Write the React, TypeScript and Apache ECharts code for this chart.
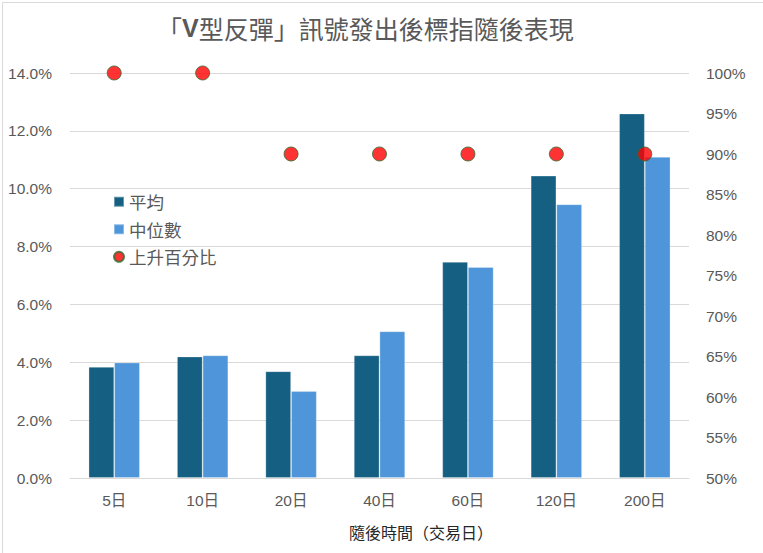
import React, { useEffect, useRef } from "react";
import * as echarts from "echarts";

const categories = ["5日", "10日", "20日", "40日", "60日", "120日", "200日"];
const meanValues = [3.84, 4.2, 3.69, 4.24, 7.47, 10.45, 12.6];
const medianValues = [3.99, 4.24, 3.0, 5.07, 7.29, 9.46, 11.1];
const upPercent = [100, 100, 90, 90, 90, 90, 90];
const seriesNames = ["平均", "中位數", "上升百分比"];
const titleParts = ["「", "V", "型反彈」訊號發出後標指隨後表現"];
const xAxisTitle = "隨後時間（交易日）";

const FONT = "'Liberation Sans', Arial, 'Noto Sans CJK TC', sans-serif";
const CJK = "'Noto Sans CJK TC', 'Liberation Sans', sans-serif";

export default function App() {
  const ref = useRef<HTMLDivElement>(null);
  useEffect(() => {
    if (!ref.current) return;
    const chart = echarts.init(ref.current, null, { renderer: "svg" });
    chart.setOption({
      animation: false,
      backgroundColor: "#ffffff",
      title: {
        text: `{a|${titleParts[0]}}{b|${titleParts[1]}}{a|${titleParts[2]}}`,
        left: 152,
        top: 10,
        textStyle: {
          fontWeight: "normal",
          rich: {
            a: { fontSize: 25, color: "#595959", fontFamily: CJK, fontWeight: "normal" },
            b: { fontSize: 25, color: "#595959", fontFamily: FONT, fontWeight: "bold" },
          },
        },
      },
      legend: {
        orient: "vertical",
        left: 108,
        top: 188,
        itemWidth: 10,
        itemHeight: 10,
        itemGap: 10,
        textStyle: { fontSize: 17.5, color: "#595959", fontFamily: CJK },
        data: [
          { name: seriesNames[0], icon: "rect" },
          { name: seriesNames[1], icon: "rect" },
          { name: seriesNames[2], icon: "circle" },
        ],
      },
      grid: { left: 70, right: 74, top: 73, bottom: 75, containLabel: false },
      xAxis: {
        type: "category",
        data: categories,
        axisLine: { lineStyle: { color: "#d9d9d9" } },
        axisTick: { show: false },
        axisLabel: { fontSize: 15.5, color: "#595959", fontFamily: FONT, margin: 15 },
      },
      yAxis: [
        {
          type: "value",
          min: 0,
          max: 14,
          interval: 2,
          axisLine: { show: false },
          axisTick: { show: false },
          splitLine: { lineStyle: { color: "#d9d9d9" } },
          axisLabel: {
            fontSize: 15.5,
            color: "#595959",
            fontFamily: FONT,
            margin: 18,
            formatter: (v: number) => v.toFixed(1) + "%",
          },
        },
        {
          type: "value",
          min: 50,
          max: 100,
          interval: 5,
          axisLine: { show: false },
          axisTick: { show: false },
          splitLine: { show: false },
          axisLabel: {
            fontSize: 15.5,
            color: "#595959",
            fontFamily: FONT,
            margin: 17,
            formatter: (v: number) => v + "%",
          },
        },
      ],
      series: [
        {
          name: seriesNames[0],
          type: "bar",
          data: meanValues,
          barGap: "0%",
          barCategoryGap: "42%",
          itemStyle: { color: "#156082", borderColor: "rgba(255,255,255,0.35)", borderWidth: 0.8 },
        },
        {
          name: seriesNames[1],
          type: "bar",
          data: medianValues,
          barGap: "0%",
          barCategoryGap: "42%",
          itemStyle: { color: "#4E95D9", borderColor: "rgba(255,255,255,0.35)", borderWidth: 0.8 },
        },
        {
          name: seriesNames[2],
          type: "scatter",
          yAxisIndex: 1,
          data: upPercent,
          symbol: "circle",
          symbolSize: 14,
          itemStyle: { color: "#ff0000", borderColor: "#2e6b2e", borderWidth: 1 },
          z: 5,
        },
      ],
      graphic: [
        {
          type: "rect",
          left: 0,
          top: 0,
          shape: { x: 0.5, y: 0.5, width: 762, height: 552 },
          style: { fill: "none", stroke: "#d9d9d9", lineWidth: 1 },
          silent: true,
        },
        {
          type: "text",
          x: 349,
          y: 532,
          style: {
            text: xAxisTitle,
            font: "16px 'Noto Sans CJK TC', sans-serif",
            fill: "#262626",
            textAlign: "left",
            textVerticalAlign: "middle",
          },
        },
      ],
    });
    return () => chart.dispose();
  }, []);
  return (
    <div
      ref={ref}
      style={{ position: "absolute", left: 0, top: 0, width: 763, height: 553 }}
    />
  );
}
